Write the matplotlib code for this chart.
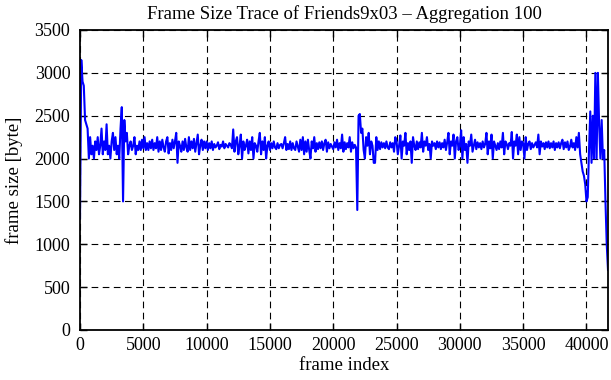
import numpy as np
import matplotlib
matplotlib.use("Agg")
import matplotlib.pyplot as plt

plt.rcParams['font.family'] = ['Liberation Serif', 'DejaVu Serif']

# aggregated frame sizes, one value per 100 frames
frame_size = [
    1300, 3150, 2900, 2850, 2450, 2400, 2350, 2000, 2250, 2050, 2150, 2000, 2200, 2100, 2250, 2050, 2150, 2350, 2050, 2200,
    2100, 2400, 2050, 2150, 2000, 2200, 2300, 2100, 2250, 2050, 2150, 2000, 2350, 2600, 1500, 2450, 2200, 2300, 2050, 2150,
    2200, 2100, 2150, 2250, 2050, 2150, 2100, 2200, 2100, 2220, 2120, 2250, 2100, 2180, 2100, 2200, 2120, 2220, 2100, 2180,
    2120, 2250, 2080, 2200, 2100, 2220, 2130, 2080, 2200, 2250, 2060, 2180, 2100, 2220, 2120, 2200, 2300, 1950, 2200, 2150,
    2080, 2200, 2100, 2230, 2130, 2080, 2250, 2100, 2200, 2120, 2230, 2080, 2180, 2280, 2050, 2150, 2220, 2100, 2200, 2120,
    2200, 2100, 2180, 2120, 2200, 2100, 2170, 2130, 2150, 2190, 2110, 2160, 2140, 2200, 2120, 2170, 2150, 2130, 2180, 2160,
    2120, 2340, 2080, 2200, 2250, 2050, 2150, 2280, 2000, 2200, 2100, 2150, 2220, 2060, 2200, 2100, 2250, 2000, 2180, 2150,
    2080, 2200, 2300, 2050, 2200, 2100, 2250, 2000, 2150, 2200, 2100, 2180, 2120, 2200, 2130, 2110, 2180, 2120, 2160, 2170,
    2120, 2180, 2250, 2100, 2170, 2110, 2200, 2100, 2180, 2120, 2100, 2200, 2140, 2080, 2220, 2100, 2250, 2050, 2200, 2080,
    2220, 2100, 2000, 2200, 2120, 2250, 2080, 2180, 2110, 2190, 2120, 2200, 2100, 2180, 2220, 2080, 2190, 2120, 2170, 2140,
    2110, 2190, 2130, 2220, 2100, 2180, 2120, 2280, 2080, 2190, 2110, 2180, 2130, 2250, 2080, 2190, 2120, 2160, 2130, 1400,
    2500, 2520, 2300, 2350, 2100, 2000, 2250, 2150, 2300, 2050, 2200, 2150, 1950, 1950, 2250, 2100, 2200, 2110, 2190, 2130,
    2180, 2120, 2200, 2130, 2110, 2190, 2130, 2180, 2080, 2250, 2200, 2050, 2150, 2270, 2000, 2200, 2150, 2300, 2050, 2180,
    2100, 2200, 1950, 2250, 2150, 2100, 2200, 2110, 2190, 2130, 2300, 2080, 2200, 2150, 2250, 2100, 2170, 2000, 2200, 2150,
    2180, 2110, 2200, 2130, 2190, 2110, 2180, 2130, 2220, 2100, 2190, 2300, 2050, 2200, 2150, 2280, 2000, 2200, 2250, 2100,
    2150, 2330, 2000, 2250, 2100, 2170, 1950, 2200, 2150, 2280, 2080, 2150, 2220, 2110, 2190, 2130, 2180, 2110, 2200, 2130,
    2170, 2300, 2050, 2200, 2120, 2280, 2000, 2200, 2150, 2100, 2180, 2110, 2200, 2130, 2300, 2050, 2200, 2170, 2110, 2180,
    2150, 2310, 2000, 2200, 2150, 2280, 2050, 2250, 2100, 2200, 2180, 2000, 2250, 2100, 2170, 2200, 2110, 2180, 2130, 2160,
    2190, 2130, 2280, 2050, 2200, 2140, 2180, 2110, 2190, 2130, 2200, 2120, 2180, 2130, 2200, 2100, 2180, 2130, 2190, 2120,
    2180, 2220, 2110, 2190, 2130, 2200, 2100, 2140, 2220, 2130, 2180, 2100, 2250, 2130, 2300, 2050, 1950, 1850, 1800, 1700,
    1500, 1550, 2100, 2550, 1950, 2500, 2000, 3000, 2000, 3000, 2400, 2000, 2450, 2000, 2100, 1500, 1000, 700,
]
aggregation = 100
frame_index = np.arange(len(frame_size)) * aggregation

x_ticks = [0, 5000, 10000, 15000, 20000, 25000, 30000, 35000, 40000]
y_ticks = [0, 500, 1000, 1500, 2000, 2500, 3000, 3500]

fig = plt.figure(figsize=(6.11, 3.80), dpi=100)
ax = fig.add_axes([80 / 611, 50 / 380, 528 / 611, 300 / 380])

ax.plot(frame_index, frame_size, color='#0000ff', linewidth=1.5)

ax.set_xlim(0, frame_index[-1])
ax.set_ylim(0, 3500)
ax.set_xticks(x_ticks)
ax.set_yticks(y_ticks)
ax.grid(True, color='black', linestyle=(0, (6, 4)), linewidth=0.8)
ax.tick_params(direction='in', length=5, width=1, top=True, right=True, labelsize=13, colors='black')
ax.tick_params(axis='y', pad=7)
ax.tick_params(axis='x', pad=5)
for s in ax.spines.values():
    s.set_linewidth(1.3)

ax.set_title('Frame Size Trace of Friends9x03 \u2013 Aggregation 100', fontsize=13.5, pad=8)
ax.set_xlabel('frame index', fontsize=13.5, labelpad=2)
ax.set_ylabel('frame size [byte]', fontsize=13.5, labelpad=8)

fig.savefig('out.png', dpi=100)
